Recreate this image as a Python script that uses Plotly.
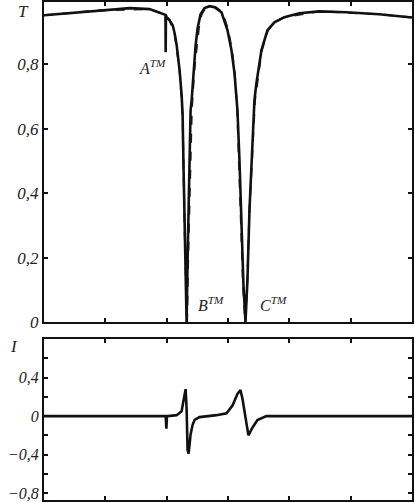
import plotly.graph_objects as go

# ---- data (arbitrary x units, 0..6) ----
t_x = [0, 0.42, 0.91, 1.40, 1.72, 1.886, 1.967, 1.980, 1.984, 1.988, 2.0, 2.049, 2.098,
       2.13, 2.163, 2.211, 2.244, 2.260, 2.276, 2.293, 2.309, 2.325, 2.341, 2.358, 2.374,
       2.390, 2.407, 2.439, 2.472, 2.504, 2.553, 2.618, 2.699, 2.780, 2.894, 2.992, 3.057,
       3.106, 3.154, 3.187, 3.220, 3.252, 3.285, 3.317, 3.350, 3.398, 3.431, 3.463, 3.545,
       3.642, 3.756, 3.919, 4.163, 4.488, 4.927, 5.463, 5.967, 6.0]
t_solid = [0.952, 0.958, 0.967, 0.974, 0.971, 0.961, 0.955, 0.953, 0.837, 0.952, 0.945, 0.936, 0.921,
           0.896, 0.859, 0.781, 0.704, 0.642, 0.471, 0.285, 0.130, 0.0, 0.192, 0.378, 0.533,
           0.657, 0.688, 0.781, 0.859, 0.912, 0.955, 0.974, 0.980, 0.977, 0.961, 0.905, 0.843,
           0.772, 0.657, 0.502, 0.285, 0.115, 0.0, 0.130, 0.347, 0.564, 0.688, 0.741, 0.843,
           0.905, 0.930, 0.946, 0.958, 0.964, 0.961, 0.955, 0.946, 0.945]

d_x = [0, 0.91, 1.72, 1.967, 2.049, 2.13, 2.211, 2.260, 2.293, 2.333, 2.350, 2.370, 2.390,
       2.410, 2.450, 2.490, 2.525, 2.570, 2.630, 2.710, 2.800, 2.910, 3.005, 3.065, 3.110,
       3.150, 3.180, 3.210, 3.245, 3.280, 3.315, 3.350, 3.400, 3.440, 3.550, 3.650, 3.760,
       3.920, 4.49, 5.46, 6.0]
t_dash = [0.952, 0.967, 0.971, 0.955, 0.936, 0.896, 0.781, 0.642, 0.285, 0.0, 0.192, 0.378, 0.533,
          0.657, 0.781, 0.859, 0.912, 0.955, 0.974, 0.980, 0.977, 0.961, 0.905, 0.843, 0.772,
          0.657, 0.502, 0.285, 0.115, 0.0, 0.130, 0.347, 0.564, 0.688, 0.843, 0.905, 0.930,
          0.946, 0.964, 0.955, 0.945]

r_x = [0, 1.984, 1.995, 2.005, 2.163, 2.244, 2.260, 2.293, 2.309, 2.325, 2.341, 2.358, 2.390,
       2.423, 2.455, 2.537, 2.813, 2.976, 3.073, 3.154, 3.203, 3.236, 3.301, 3.333, 3.398,
       3.480, 3.626, 6.0]
r_y = [0, 0, -0.13, 0, 0.01, 0.05, 0.11, 0.26, 0.28, 0.08, -0.35, -0.39, -0.19,
       -0.09, -0.04, -0.01, 0.01, 0.03, 0.11, 0.23, 0.27, 0.18, -0.09, -0.20, -0.12,
       -0.04, 0, 0]

top_ticks = [0, 0.2, 0.4, 0.6, 0.8]
top_labels = ["0", "0,2", "0,4", "0,6", "0,8"]
bot_ticks = [-0.8, -0.6, -0.4, -0.2, 0, 0.2, 0.4, 0.6, 0.8]
bot_labels = ["\u22120,8", "", "\u22120,4", "", "0", "", "0,4", "", ""]
x_ticks = [0, 1, 2, 3, 4, 5, 6]

FONT = "Liberation Serif"

fig = go.Figure()
fig.add_trace(go.Scatter(x=d_x, y=t_dash, mode="lines", xaxis="x", yaxis="y",
                         line=dict(color="#222", width=2, dash="dash"), showlegend=False))
fig.add_trace(go.Scatter(x=t_x, y=t_solid, mode="lines", xaxis="x", yaxis="y",
                         line=dict(color="#111", width=2.6), showlegend=False))
fig.add_trace(go.Scatter(x=r_x, y=r_y, mode="lines", xaxis="x2", yaxis="y2",
                         line=dict(color="#111", width=2.6), showlegend=False))

axis_common = dict(showline=True, linecolor="#111", linewidth=2, mirror="ticks",
                   ticks="inside", ticklen=4, tickwidth=1.5, tickcolor="#111",
                   showgrid=False, zeroline=False, automargin=False)

fig.update_layout(
    width=415, height=503,
    margin=dict(l=44, r=3, t=2, b=3),
    plot_bgcolor="white", paper_bgcolor="white",
    font=dict(family=FONT, size=17, color="#222"),
    xaxis=dict(domain=[0, 1], range=[0, 6], tickvals=x_ticks, showticklabels=False,
               anchor="y", **axis_common),
    yaxis=dict(domain=[0.3574, 1.0], range=[0, 0.993], tickvals=top_ticks, ticktext=top_labels,
               tickfont=dict(family=FONT, size=17, style="italic"), anchor="x",
               ticklabeloverflow="allow", **axis_common),
    xaxis2=dict(domain=[0, 1], range=[0, 6], tickvals=x_ticks, showticklabels=False,
                anchor="y2", **axis_common),
    yaxis2=dict(domain=[0, 0.3233], range=[-0.87, 0.8], tickvals=bot_ticks, ticktext=bot_labels,
                tickfont=dict(family=FONT, size=16, style="italic"), anchor="x2",
                ticklabeloverflow="allow", **axis_common),
    annotations=[
        dict(text="<i>T</i>", x=-0.035, xref="x domain", y=0.965, yref="y",
             xanchor="right", yanchor="middle", showarrow=False, font=dict(size=17)),
        dict(text="<i>I</i>", x=-0.065, xref="x2 domain", y=0.72, yref="y2",
             xanchor="right", yanchor="middle", showarrow=False, font=dict(size=17)),
        dict(text="<i>A</i><sup><i>TM</i></sup>", x=1.77, y=0.79, xref="x", yref="y",
             showarrow=False, font=dict(size=16)),
        dict(text="<i>B</i><sup><i>TM</i></sup>", x=2.73, y=0.055, xref="x", yref="y",
             showarrow=False, font=dict(size=16)),
        dict(text="<i>C</i><sup><i>TM</i></sup>", x=3.74, y=0.055, xref="x", yref="y",
             showarrow=False, font=dict(size=16)),
    ],
)

fig.write_html("out.html", config={"displayModeBar": False},
               post_script="document.body.style.margin='0';")
